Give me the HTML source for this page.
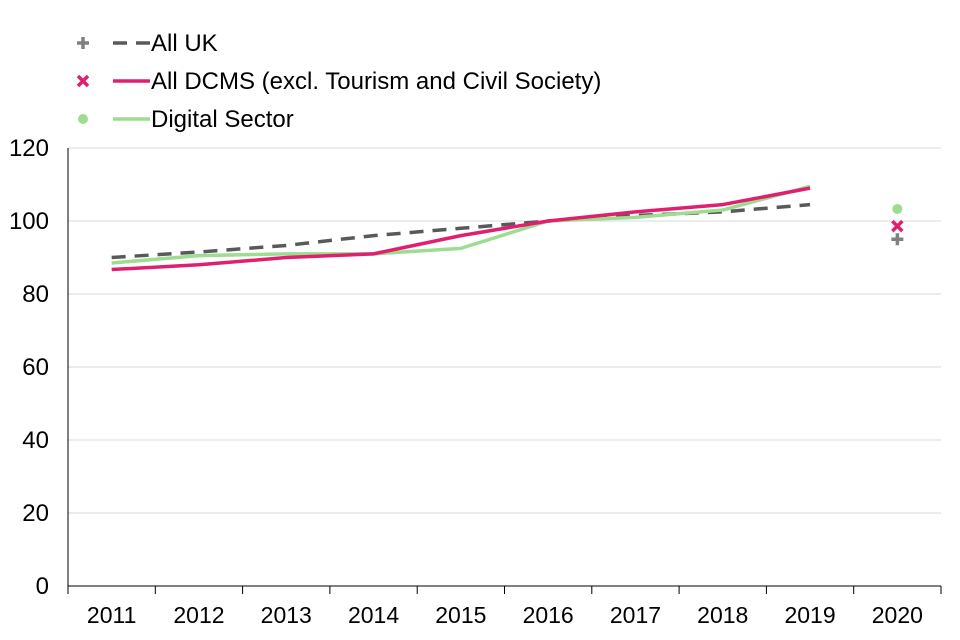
<!DOCTYPE html>
<html><head><meta charset="utf-8"><style>
html,body{margin:0;padding:0;background:#fff;}
svg{display:block;font-family:"Liberation Sans",Arial,sans-serif;}
</style></head><body>
<svg id="chart" width="960" height="640" viewBox="0 0 960 640" xmlns="http://www.w3.org/2000/svg"></svg>
<script>
const categories = ["2011","2012","2013","2014","2015","2016","2017","2018","2019","2020"];
const yTicks = [0,20,40,60,80,100,120];
const allUK = [90,91.5,93.3,96,98,100,101.5,102.5,104.5,null];
const allDCMS = [86.7,88,90,91,96,100,102.5,104.5,109,null];
const digital = [88.5,90.5,91,91,92.5,100,101,103,109.5,null];
const uk2020 = 95;
const dcms2020 = 98.6;
const digital2020 = 103.3;

const svg = document.getElementById('chart');
const NS = 'http://www.w3.org/2000/svg';
const L = 68, R = 941, T = 148, B = 586;
const step = (R - L) / categories.length;
function x(i){ return L + step * (i + 0.5); }
function y(v){ return B - (v / 120) * (B - T); }
function mk(tag, attrs, parent){
  const e = document.createElementNS(NS, tag);
  for (const k in attrs) e.setAttribute(k, attrs[k]);
  (parent || svg).appendChild(e);
  return e;
}

yTicks.forEach(t => {
  if (t > 0) {
    const g = mk('line', {x1:L, x2:R, y1:y(t), y2:y(t), stroke:'#d9d9d9', 'stroke-width':1});
    
    
  }
  const tx = mk('text', {x:L-19, y:y(t)+8, 'text-anchor':'end', 'font-size':24, fill:'#000'});
  tx.textContent = t;
  
  
});
const ya = mk('line', {x1:L, x2:L, y1:T, y2:B, stroke:'#000', 'stroke-width':1});


const xa = mk('line', {x1:L, x2:R, y1:B, y2:B, stroke:'#000', 'stroke-width':1});


for (let i = 0; i <= categories.length; i++) {
  const tk = mk('line', {x1:L+step*i, x2:L+step*i, y1:B, y2:B+8, stroke:'#000', 'stroke-width':1});
  
  
}
categories.forEach((c, i) => {
  const tx = mk('text', {x:x(i), y:B+37, 'text-anchor':'middle', 'font-size':23, fill:'#000'});
  tx.textContent = c;
  
  
});

function series(vals, color, dash, name){
  const pts = [];
  vals.forEach((v, i) => { if (v !== null) pts.push(x(i) + ',' + y(v)); });
  const p = mk('polyline', {points:pts.join(' '), fill:'none', stroke:color, 'stroke-width':3.5, 'stroke-dasharray':dash || 'none', 'stroke-linejoin':'round'});
  
  
}
series(allUK, '#595959', '14,9', 'all-uk-line');
series(digital, '#9ddc91', null, 'digital-sector-line');
series(allDCMS, '#e0206f', null, 'all-dcms-line');

function plus(cx, cy, color, name){
  const g = mk('path', {d:`M${cx-6},${cy}H${cx+6}M${cx},${cy-6}V${cy+6}`, stroke:color, 'stroke-width':3.5, fill:'none'});
  
  
}
function cross(cx, cy, color, name){
  const g = mk('path', {d:`M${cx-5},${cy-5}L${cx+5},${cy+5}M${cx+5},${cy-5}L${cx-5},${cy+5}`, stroke:color, 'stroke-width':3.5, fill:'none'});
  
  
}
function dot(cx, cy, color, name){
  const g = mk('circle', {cx:cx, cy:cy, r:5, fill:color});
  
  
}
dot(x(9), y(digital2020), '#9ddc91', 'digital-2020-marker');
cross(x(9), y(dcms2020), '#e0206f', 'dcms-2020-marker');
plus(x(9), y(uk2020), '#808080', 'uk-2020-marker');

const leg = [
  {y:43, name:'All UK', color:'#595959', mcolor:'#808080', m:'plus', dash:'14,9', key:'all-uk'},
  {y:81, name:'All DCMS (excl. Tourism and Civil Society)', color:'#e0206f', mcolor:'#e0206f', m:'cross', dash:null, key:'all-dcms'},
  {y:119, name:'Digital Sector', color:'#9ddc91', mcolor:'#9ddc91', m:'dot', dash:null, key:'digital-sector'}
];
leg.forEach(e => {
  if (e.m === 'plus') plus(83, e.y, e.mcolor, 'legend-marker-' + e.key);
  if (e.m === 'cross') cross(83, e.y, e.mcolor, 'legend-marker-' + e.key);
  if (e.m === 'dot') dot(83, e.y, e.mcolor, 'legend-marker-' + e.key);
  const ln = mk('line', {x1:113, x2:150, y1:e.y, y2:e.y, stroke:e.color, 'stroke-width':3.5, 'stroke-dasharray':e.dash || 'none'});
  
  
  const t = mk('text', {x:151, y:e.y+8, 'font-size':24, fill:'#000'});
  t.textContent = e.name;
  
  
});
</script>
</body></html>
